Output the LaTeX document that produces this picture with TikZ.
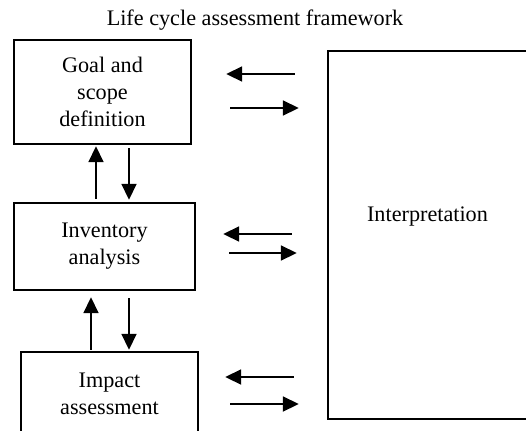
\documentclass[tikz,border=0pt]{standalone}
\usepackage{fontspec}
\setmainfont{Liberation Serif}
\usetikzlibrary{arrows.meta}

\begin{document}
\begin{tikzpicture}[x=0.5pt, y=-0.5pt,
    stage/.style={draw, line width=1.2pt, align=center, inner sep=0pt,
        font=\fontsize{11.1}{13.5}\selectfont},
    arr/.style={line width=0.9pt, -{Triangle[length=8pt, width=7.5pt]}}]
\useasboundingbox (0,0) rectangle (526,430);
\begin{scope}
    \clip (0,0) rectangle (526,430);
    \node[font=\fontsize{11.1}{13.5}\selectfont] (title) at (255, 20) {Life cycle assessment framework};

    \node[stage, minimum width=88.5pt, minimum height=52pt] (goal) at (102.5, 92) {Goal and\\scope\\definition};
    \node[stage, minimum width=90.5pt, minimum height=43.5pt] (inventory) at (104.5, 246.5) {Inventory\\analysis};
    \node[stage, minimum width=88.5pt, minimum height=42pt] (impact) at (109.5, 394) {Impact\\assessment};
    \node[stage, minimum width=103pt, minimum height=184pt,
        label={[font=\fontsize{11.1}{13.5}\selectfont, xshift=-1.75pt, yshift=9pt]center:Interpretation}] (interp) at (431, 235) {};

    % goal <-> interpretation
    \draw[arr, shorten <=16pt, shorten >=17pt] ([yshift=9pt]goal.east -| interp.west) -- ([yshift=9pt]goal.east);
    \draw[arr, shorten <=19pt, shorten >=14pt] ([yshift=-8pt]goal.east) -- ([yshift=-8pt]goal.east -| interp.west);
    % inventory <-> interpretation
    \draw[arr, shorten <=17.5pt, shorten >=13.5pt] ([yshift=6.25pt]inventory.east -| interp.west) -- ([yshift=6.25pt]inventory.east);
    \draw[arr, shorten <=16.5pt, shorten >=15pt] ([yshift=-3.25pt]inventory.east) -- ([yshift=-3.25pt]inventory.east -| interp.west);
    % impact <-> interpretation
    \draw[arr, shorten <=16.5pt, shorten >=13pt] ([yshift=8.5pt]impact.east -| interp.west) -- ([yshift=8.5pt]impact.east);
    \draw[arr, shorten <=15.5pt, shorten >=14pt] ([yshift=-5pt]impact.east) -- ([yshift=-5pt]impact.east -| interp.west);

    % goal <-> inventory
    \draw[arr, shorten <=1.5pt, shorten >=0.5pt] ([xshift=-3.25pt]goal.south |- inventory.north) -- ([xshift=-3.25pt]goal.south);
    \draw[arr, shorten <=1.5pt, shorten >=1pt] ([xshift=13.25pt]goal.south) -- ([xshift=13.25pt]goal.south |- inventory.north);
    % inventory <-> impact
    \draw[arr, shorten <=0.5pt, shorten >=3pt] ([xshift=-6.75pt]inventory.south |- impact.north) -- ([xshift=-6.75pt]inventory.south);
    \draw[arr, shorten <=3.5pt, shorten >=0.5pt] ([xshift=12.25pt]inventory.south) -- ([xshift=12.25pt]inventory.south |- impact.north);
\end{scope}
\end{tikzpicture}
\end{document}
